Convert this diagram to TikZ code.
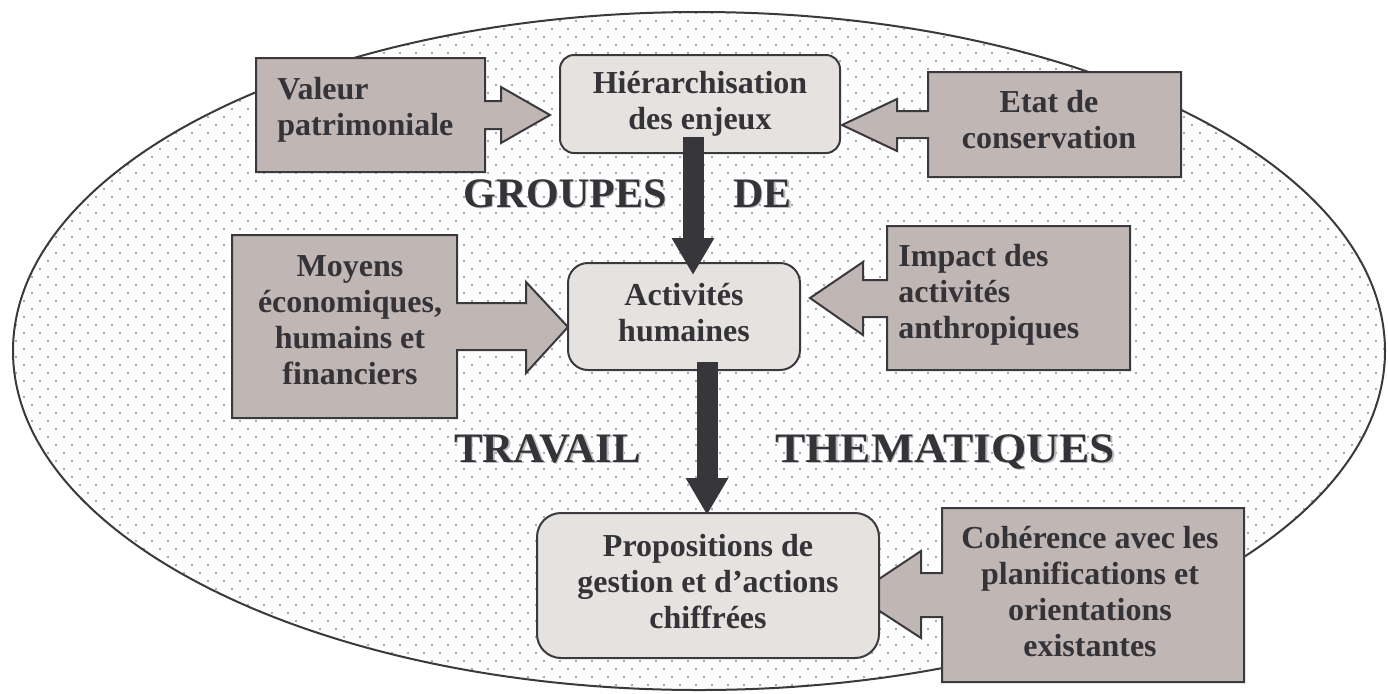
\documentclass[tikz,border=0pt]{standalone}
\usepackage{fontspec}
\usepackage{graphicx}
\setmainfont{Liberation Serif}
\usetikzlibrary{patterns,arrows.meta,calc}
\definecolor{txt}{RGB}{52,51,56}
\definecolor{edge}{RGB}{58,58,62}
\definecolor{calloutfill}{RGB}{192,182,180}
\definecolor{boxfill}{RGB}{230,226,223}
\definecolor{arrowfill}{RGB}{55,54,59}
\definecolor{dotcol}{RGB}{50,50,54}
\definecolor{shadowcol}{RGB}{190,188,192}
\newcommand\boxfont{\fontsize{16}{18}\selectfont\bfseries}
\newcommand\bigfont{\fontsize{21}{24}\selectfont\bfseries}
\pgfdeclarepatternformonly{smalldots}{\pgfpoint{-0.5pt}{-0.5pt}}{\pgfpoint{7.5pt}{7.5pt}}{\pgfpoint{8pt}{8pt}}{%
  \pgfpathrectangle{\pgfpoint{-0.36pt}{-0.36pt}}{\pgfpoint{0.72pt}{0.72pt}}%
  \pgfpathrectangle{\pgfpoint{3.64pt}{3.64pt}}{\pgfpoint{0.72pt}{0.72pt}}%
  \pgfusepath{fill}}
\begin{document}
\begin{tikzpicture}[x=0.5pt,y=-0.5pt,
  callout/.style={draw=edge, line width=1pt, fill=calloutfill, line join=miter},
  rbox/.style={draw=edge, line width=1pt, fill=boxfill, align=center, font=\boxfont, text=txt, inner sep=0pt, outer sep=0pt},
  lbl/.style={font=\boxfont, text=txt, inner sep=0pt},
  big/.style={font=\bigfont, text=txt, inner sep=0pt, anchor=base west},
  bigshadow/.style={font=\bigfont, text=shadowcol, inner sep=0pt, anchor=base west},
  flow/.style={line width=10.5pt, draw=arrowfill, line cap=butt, -{Triangle[width=20pt,length=18.5pt]}}]
\useasboundingbox (0,0) rectangle (1388,693);
\fill[white] (0,0) rectangle (1388,693);
% dotted ellipse
\draw[draw=edge, line width=1pt, pattern=smalldots, pattern color=dotcol] (699,351) ellipse [x radius=343pt, y radius=169.5pt];
% callout shapes
\draw[callout] (256,58) -- (485,58) -- (485,101) -- (501,101) -- (501,87) -- (550,115) -- (501,143) -- (501,129) -- (485,129) -- (485,172) -- (256,172) -- cycle;
\draw[callout] (1181,72) -- (928,72) -- (928,111) -- (897,111) -- (897,99) -- (842,125) -- (897,151) -- (897,138) -- (928,138) -- (928,177) -- (1181,177) -- cycle;
\draw[callout] (232,235) -- (457,235) -- (457,303) -- (526,303) -- (526,282) -- (568,327) -- (526,373) -- (526,350) -- (457,350) -- (457,418) -- (232,418) -- cycle;
\draw[callout] (1130,226) -- (887,226) -- (887,280) -- (863,280) -- (863,262) -- (810,298) -- (863,335) -- (863,317) -- (887,317) -- (887,370) -- (1130,370) -- cycle;
\draw[callout] (1244,508) -- (942,508) -- (942,573) -- (921,573) -- (921,551) -- (855,595) -- (921,638) -- (921,617) -- (942,617) -- (942,682) -- (1244,682) -- cycle;
% callout texts
\node[lbl, anchor=west, align=left] (val) at (277,110) {\strut Valeur\\\strut patrimoniale};
\node[lbl, align=center] (etat) at (1049,123) {\strut Etat de\\\strut conservation};
\node[lbl, align=center] (moy) at (350,323) {\strut Moyens\\\strut économiques,\\\strut humains et\\\strut financiers};
\node[lbl, anchor=west, align=left] (imp) at (898,295) {\strut Impact des\\\strut activités\\\strut anthropiques};
\node[lbl, align=center] (coh) at (1090,595) {\strut Cohérence avec les\\\strut planifications et\\\strut orientations\\\strut existantes};
% central boxes
\node[rbox, rounded corners=7pt, minimum width=140pt, minimum height=49pt] (hier) at (700,104) {\strut Hiérarchisation\\\strut des enjeux};
\node[rbox, rounded corners=10pt, minimum width=116pt, minimum height=53.5pt] (act) at (684,316.5) {\strut Activités\\\strut humaines};
\node[rbox, rounded corners=12pt, minimum width=171pt, minimum height=72.5pt] (prop) at (708,585.5) {\strut Propositions de\\\strut gestion et d’actions\\\strut chiffrées};
% big background words
\node[bigshadow] at (464.5,208) {GROUPES};
\node[big] (g1) at (463,207) {GROUPES};
\node[bigshadow] at (734.5,208) {DE};
\node[big] (g2) at (733,207) {DE};
\node[bigshadow] at (455.5,463) {\scalebox{1.02}[1]{TRAVAIL}};
\node[big] (g3) at (454,462) {\scalebox{1.02}[1]{TRAVAIL}};
\node[bigshadow] at (776.5,463) {\scalebox{1.08}[1]{THEMATIQUES}};
\node[big] (g4) at (775,462) {\scalebox{1.08}[1]{THEMATIQUES}};
% flow arrows
\draw[flow] ([shift={(-7,-16)}]hier.south) -- ([shift={(9,12)}]act.north);
\draw[flow] ([shift={(23,-8)}]act.south) -- ([shift={(-1,2)}]prop.north);
\end{tikzpicture}
\end{document}
